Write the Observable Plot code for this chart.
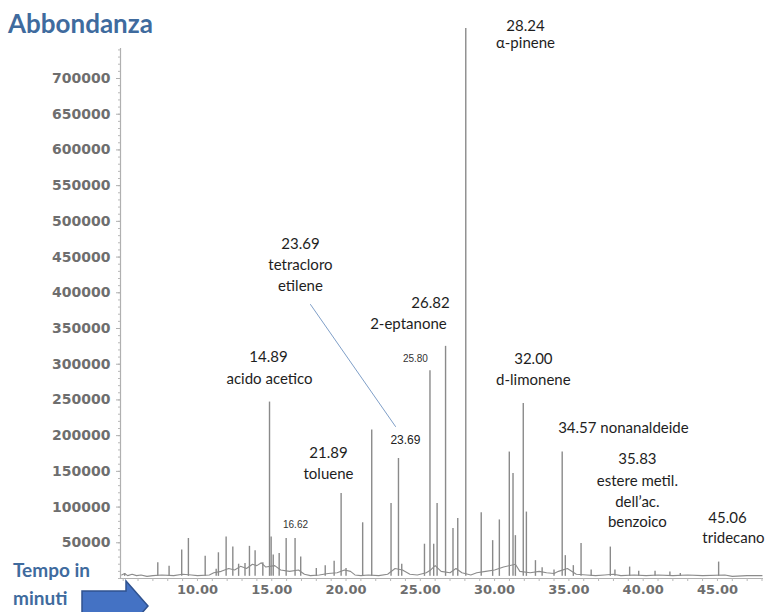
<!DOCTYPE html>
<html>
<head>
<meta charset="utf-8">
<script src="https://cdn.jsdelivr.net/npm/d3@7"></script>
<script src="https://cdn.jsdelivr.net/npm/@observablehq/plot@0.6"></script>
<style>
  html, body { margin: 0; padding: 0; background: #fff; }
  #wrap { position: relative; width: 768px; height: 612px; overflow: hidden; }
  #chart { position: absolute; left: 0; top: 0; }
  .blue { position: absolute; color: #3f6b9e; font-family: Lato, "Open Sans", sans-serif; font-weight: bold; line-height: 1; white-space: nowrap; }
  #title { left: 8px; top: 10px; font-size: 26px; }
  #t1 { left: 13px; top: 560px; font-size: 19px; }
  #t2 { left: 13px; top: 588px; font-size: 19px; }
  #arrow { position: absolute; left: 0; top: 0; }
</style>
</head>
<body>
<div id="wrap">
  <div id="chart"></div>
  <div class="blue" id="title">Abbondanza</div>
  <div class="blue" id="t1">Tempo in</div>
  <div class="blue" id="t2">minuti</div>
  <svg id="arrow" width="768" height="612"><polygon points="82,591 126,591 126,581 148,606 126,631 126,621 82,621" fill="#4472c4" stroke="#2f528f" stroke-width="1.5"/></svg>
</div>
<script>
// ---- data (minutes, abundance) ----
const peakTimes = [5.1, 7.33, 8.09, 8.94, 9.39, 10.52, 11.26, 11.41, 11.93, 12.38, 12.77, 13.2, 13.5, 13.88, 14.4,
  14.85, 14.96, 15.1, 15.5, 15.97, 16.57, 16.95, 18.0, 18.6, 19.2, 19.67, 20.0, 21.12, 21.73, 23.03, 23.53, 23.75,
  25.28, 25.65, 25.9, 26.13, 26.7, 27.2, 27.52, 28.06, 29.1, 29.87, 30.32, 30.99, 31.24, 31.4, 31.93, 32.14, 32.75,
  33.2, 34.0, 34.55, 34.76, 35.3, 35.82, 36.5, 37.79, 38.1, 39.09, 39.7, 40.8, 41.8, 42.5, 45.08];
const peakHeights = [7000, 22000, 17000, 40000, 56000, 31000, 13000, 36000, 58000, 44000, 20000, 21000, 45000, 39000, 22000,
  247000, 58000, 33000, 35000, 56000, 56000, 30000, 14000, 18000, 24000, 119000, 14000, 78000, 208000, 105000, 168000, 20000,
  48000, 291000, 48000, 105000, 325000, 70000, 84000, 770000, 92000, 53000, 82000, 177000, 147000, 60000, 245000, 93000, 25000,
  15000, 12000, 177000, 32000, 18000, 49000, 12000, 44000, 12000, 16000, 10000, 10000, 9000, 7000, 23000];
const baseTimes = [4.9, 5.1, 5.3, 5.6, 5.9, 6.2, 6.6, 7.0, 7.6, 8.4, 9.0, 9.6, 10.0, 10.8, 11.1, 11.6, 12.1, 12.5, 12.9,
  13.3, 13.7, 14.0, 14.3, 14.6, 15.2, 15.6, 16.2, 16.8, 17.2, 17.6, 18.2, 18.8, 19.4, 19.9, 20.3, 20.6, 21.0, 21.5, 22.2,
  22.8, 23.3, 23.8, 24.3, 24.8, 25.4, 25.7, 26.0, 26.4, 27.0, 27.4, 27.8, 28.4, 28.8, 29.4, 30.0, 30.6, 31.4, 31.7, 32.4,
  33.0, 33.5, 34.0, 34.3, 34.9, 35.5, 36.2, 36.8, 37.4, 38.0, 38.5, 39.4, 40.2, 41.0, 42.0, 43.0, 44.0, 45.5, 46.0, 47.0, 48.0];
const baseValues = [5000, 7000, 4000, 6000, 4000, 5000, 3000, 4000, 5000, 4000, 6000, 5000, 4000, 5000, 8000, 10000, 14000, 12000, 17000,
  14000, 20000, 18000, 22000, 16000, 18000, 12000, 10000, 12000, 6000, 4000, 5000, 7000, 8000, 12000, 10000, 5000, 4000, 5000, 4000,
  6000, 14000, 12000, 6000, 5000, 8000, 12000, 18000, 10000, 8000, 14000, 8000, 5000, 8000, 10000, 12000, 16000, 20000, 10000, 8000,
  10000, 8000, 7000, 10000, 14000, 6000, 5000, 4000, 5000, 6000, 4000, 5000, 4000, 5000, 4000, 5000, 4000, 5000, 3000, 4000, 4000];
const baselineLevel = 3000;

const xDomain = [4.82, 48.1];
const yDomain = [0, 742000];
const xTicks = [10, 15, 20, 25, 30, 35, 40, 45];
const xMinorTicks = d3.range(5, 49, 1);
const yTicks = d3.range(50000, 700001, 50000);
const yMinorTicks = d3.range(0, 742001, 10000);

// annotation texts and their anchor (time, abundance)
const labelTexts = ["28.24", "α-pinene", "23.69", "tetracloro", "etilene", "26.82", "2-eptanone", "14.89", "acido acetico",
  "32.00", "d-limonene", "34.57 nonanaldeide", "21.89", "toluene", "35.83", "estere metil.", "dell’ac.", "benzoico", "45.06", "tridecano"];
const labelTimes = [32.08, 32.08, 16.93, 16.93, 16.93, 25.68, 24.20, 14.78, 14.85,
  32.61, 32.61, 38.67, 18.82, 18.82, 39.61, 39.61, 39.61, 39.61, 45.68, 46.08];
const labelValues = [772800, 749000, 467600, 438200, 408800, 385000, 355600, 309400, 278600,
  306600, 277200, 210000, 175000, 145600, 166600, 135800, 106400, 78400, 84000, 56000];
const tinyTexts = ["25.80", "16.62"];
const tinyTimes = [24.67, 16.6];
const tinyValues = [308000, 75600];
const midTexts = ["23.69"];
const midTimes = [24.0];
const midValues = [193200];
const leaderTimes = [17.61, 23.33];
const leaderValues = [383600, 212800];

const peaks = peakTimes.map((t, i) => ({t, h: peakHeights[i]}));
const base = baseTimes.map((t, i) => ({t, v: baseValues[i]}));
const labels = labelTexts.map((s, i) => ({s, t: labelTimes[i], v: labelValues[i]}));
const tiny = tinyTexts.map((s, i) => ({s, t: tinyTimes[i], v: tinyValues[i]}));
const mid = midTexts.map((s, i) => ({s, t: midTimes[i], v: midValues[i]}));
const leader = leaderTimes.map((t, i) => ({t, v: leaderValues[i]}));

const chart = Plot.plot({
  width: 768, height: 612,
  marginLeft: 120, marginRight: 5, marginTop: 48, marginBottom: 34,
  x: {domain: xDomain},
  y: {domain: yDomain},
  style: {fontFamily: "Lato, sans-serif", background: "transparent", overflow: "visible"},
  marks: [
    Plot.ruleX([xDomain[0]], {stroke: "#b0b0b0", strokeWidth: 1.2}),
    Plot.ruleY([0], {stroke: "#b0b0b0", strokeWidth: 1.2}),
    Plot.axisY({ticks: yMinorTicks, tickSize: 2, text: null, stroke: "#b8b8b8", label: null}),
    Plot.axisY({ticks: yTicks, tickSize: 4, tickPadding: 6, tickFormat: d => String(d), fontSize: 14,
      fontFamily: "DejaVu Sans", fontWeight: "bold", fill: "#6e6e6e", stroke: "#b0b0b0", label: null}),
    Plot.axisX({ticks: xMinorTicks, tickSize: 3, text: null, stroke: "#b8b8b8", label: null}),
    Plot.axisX({ticks: xTicks, tickSize: 0, tickPadding: 6, tickFormat: d => d.toFixed(2), fontSize: 13,
      fontFamily: "DejaVu Sans", fontWeight: "bold", fill: "#6e6e6e", label: null}),
    Plot.line(base, {x: "t", y: "v", stroke: "#8c8c8c", strokeWidth: 1.1}),
    Plot.ruleX(peaks, {x: "t", y1: baselineLevel, y2: "h", stroke: "#8a8a8a", strokeWidth: 1.4}),
    Plot.line(leader, {x: "t", y: "v", stroke: "#7f9fc8", strokeWidth: 1}),
    Plot.text(labels, {x: "t", y: "v", text: "s", fontSize: 15, fontFamily: "Lato", fill: "#1e1e1e"}),
    Plot.text(tiny, {x: "t", y: "v", text: "s", fontSize: 10, fontFamily: "Liberation Sans", fill: "#333"}),
    Plot.text(mid, {x: "t", y: "v", text: "s", fontSize: 12, fontFamily: "Liberation Sans", fill: "#222"})
  ]
});
document.getElementById("chart").appendChild(chart);
</script>
</body>
</html>
